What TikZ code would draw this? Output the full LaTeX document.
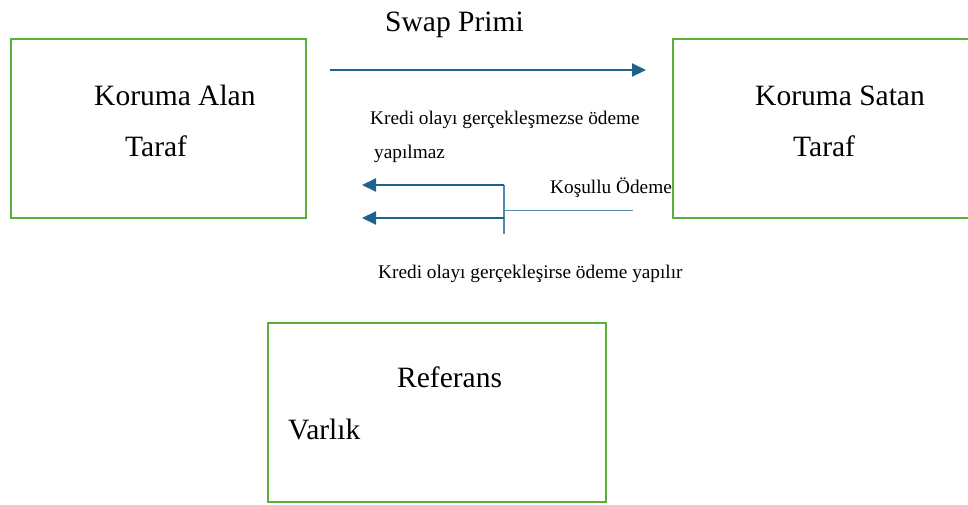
\documentclass[tikz,border=0pt]{standalone}
\usepackage{fontspec}
\setmainfont{Liberation Serif}
\newfontfamily\timesfont{Liberation Serif}
\usetikzlibrary{arrows.meta}
\definecolor{boxgreen}{HTML}{5AAE3A}
\definecolor{arrowblue}{HTML}{1D6389}
\definecolor{lineblue}{HTML}{4F8DB3}
\tikzset{
  box/.style={draw=boxgreen, line width=2.4pt, fill=white, anchor=north west, inner sep=0pt},
  big/.style={anchor=base west, inner sep=0pt, font=\timesfont\fontsize{29.5}{32}\selectfont},
  small/.style={anchor=base west, inner sep=0pt, font=\timesfont\fontsize{19.3}{22}\selectfont},
  mainarrow/.style={draw=arrowblue, line width=2.2pt, -{Triangle[length=14pt,width=13pt]}},
  thinline/.style={draw=lineblue, line width=1.4pt}
}
\begin{document}
\begin{tikzpicture}[x=1pt,y=-1pt]
\useasboundingbox (0,0) rectangle (968,504);
% small text partly hidden behind the right box
\node[small] (kosullu) at (550,193) {Koşullu Ödeme};
% boxes
\node[box, minimum width=295pt, minimum height=179pt] (alan) at (10,38) {};
\node[box, minimum width=305pt, minimum height=179pt] (satan) at (672,38) {};
\node[box, minimum width=338pt, minimum height=179pt] (ref) at (267,322) {};
% box texts
\node[big] (alan1) at (94,105) {Koruma Alan};
\node[big] (alan2) at (125,156) {Taraf};
\node[big] (satan1) at (755,105) {Koruma Satan};
\node[big] (satan2) at (793,156) {Taraf};
\node[big] (ref1) at (397,387) {Referans};
\node[big] (ref2) at (288,439) {Varlık};
% labels
\node[big] (swap) at (385,31) {Swap Primi};
\node[small] (kredi1) at (370,124) {Kredi olayı gerçekleşmezse ödeme};
\node[small] (kredi2) at (374,158) {yapılmaz};
\node[small] (kredi3) at (378,278) {Kredi olayı gerçekleşirse ödeme yapılır};
% connectors
\coordinate (p1s) at (330,70);
\coordinate (p1e) at (646,70);
\draw[mainarrow] (p1s) -- (p1e);
\coordinate (vtop) at (504,185);
\coordinate (vmid) at (504,218);
\coordinate (vbot) at (504,234);
\coordinate (hm) at (504,210);
\coordinate (hr) at (633,210);
\coordinate (a1) at (362,185);
\coordinate (a2) at (362,218);
\draw[thinline] (vtop) -- (vbot);
\draw[draw=lineblue, line width=1pt] (hm) -- (hr);
\draw[mainarrow] (vtop) -- (a1);
\draw[mainarrow] (vmid) -- (a2);
\end{tikzpicture}
\end{document}
